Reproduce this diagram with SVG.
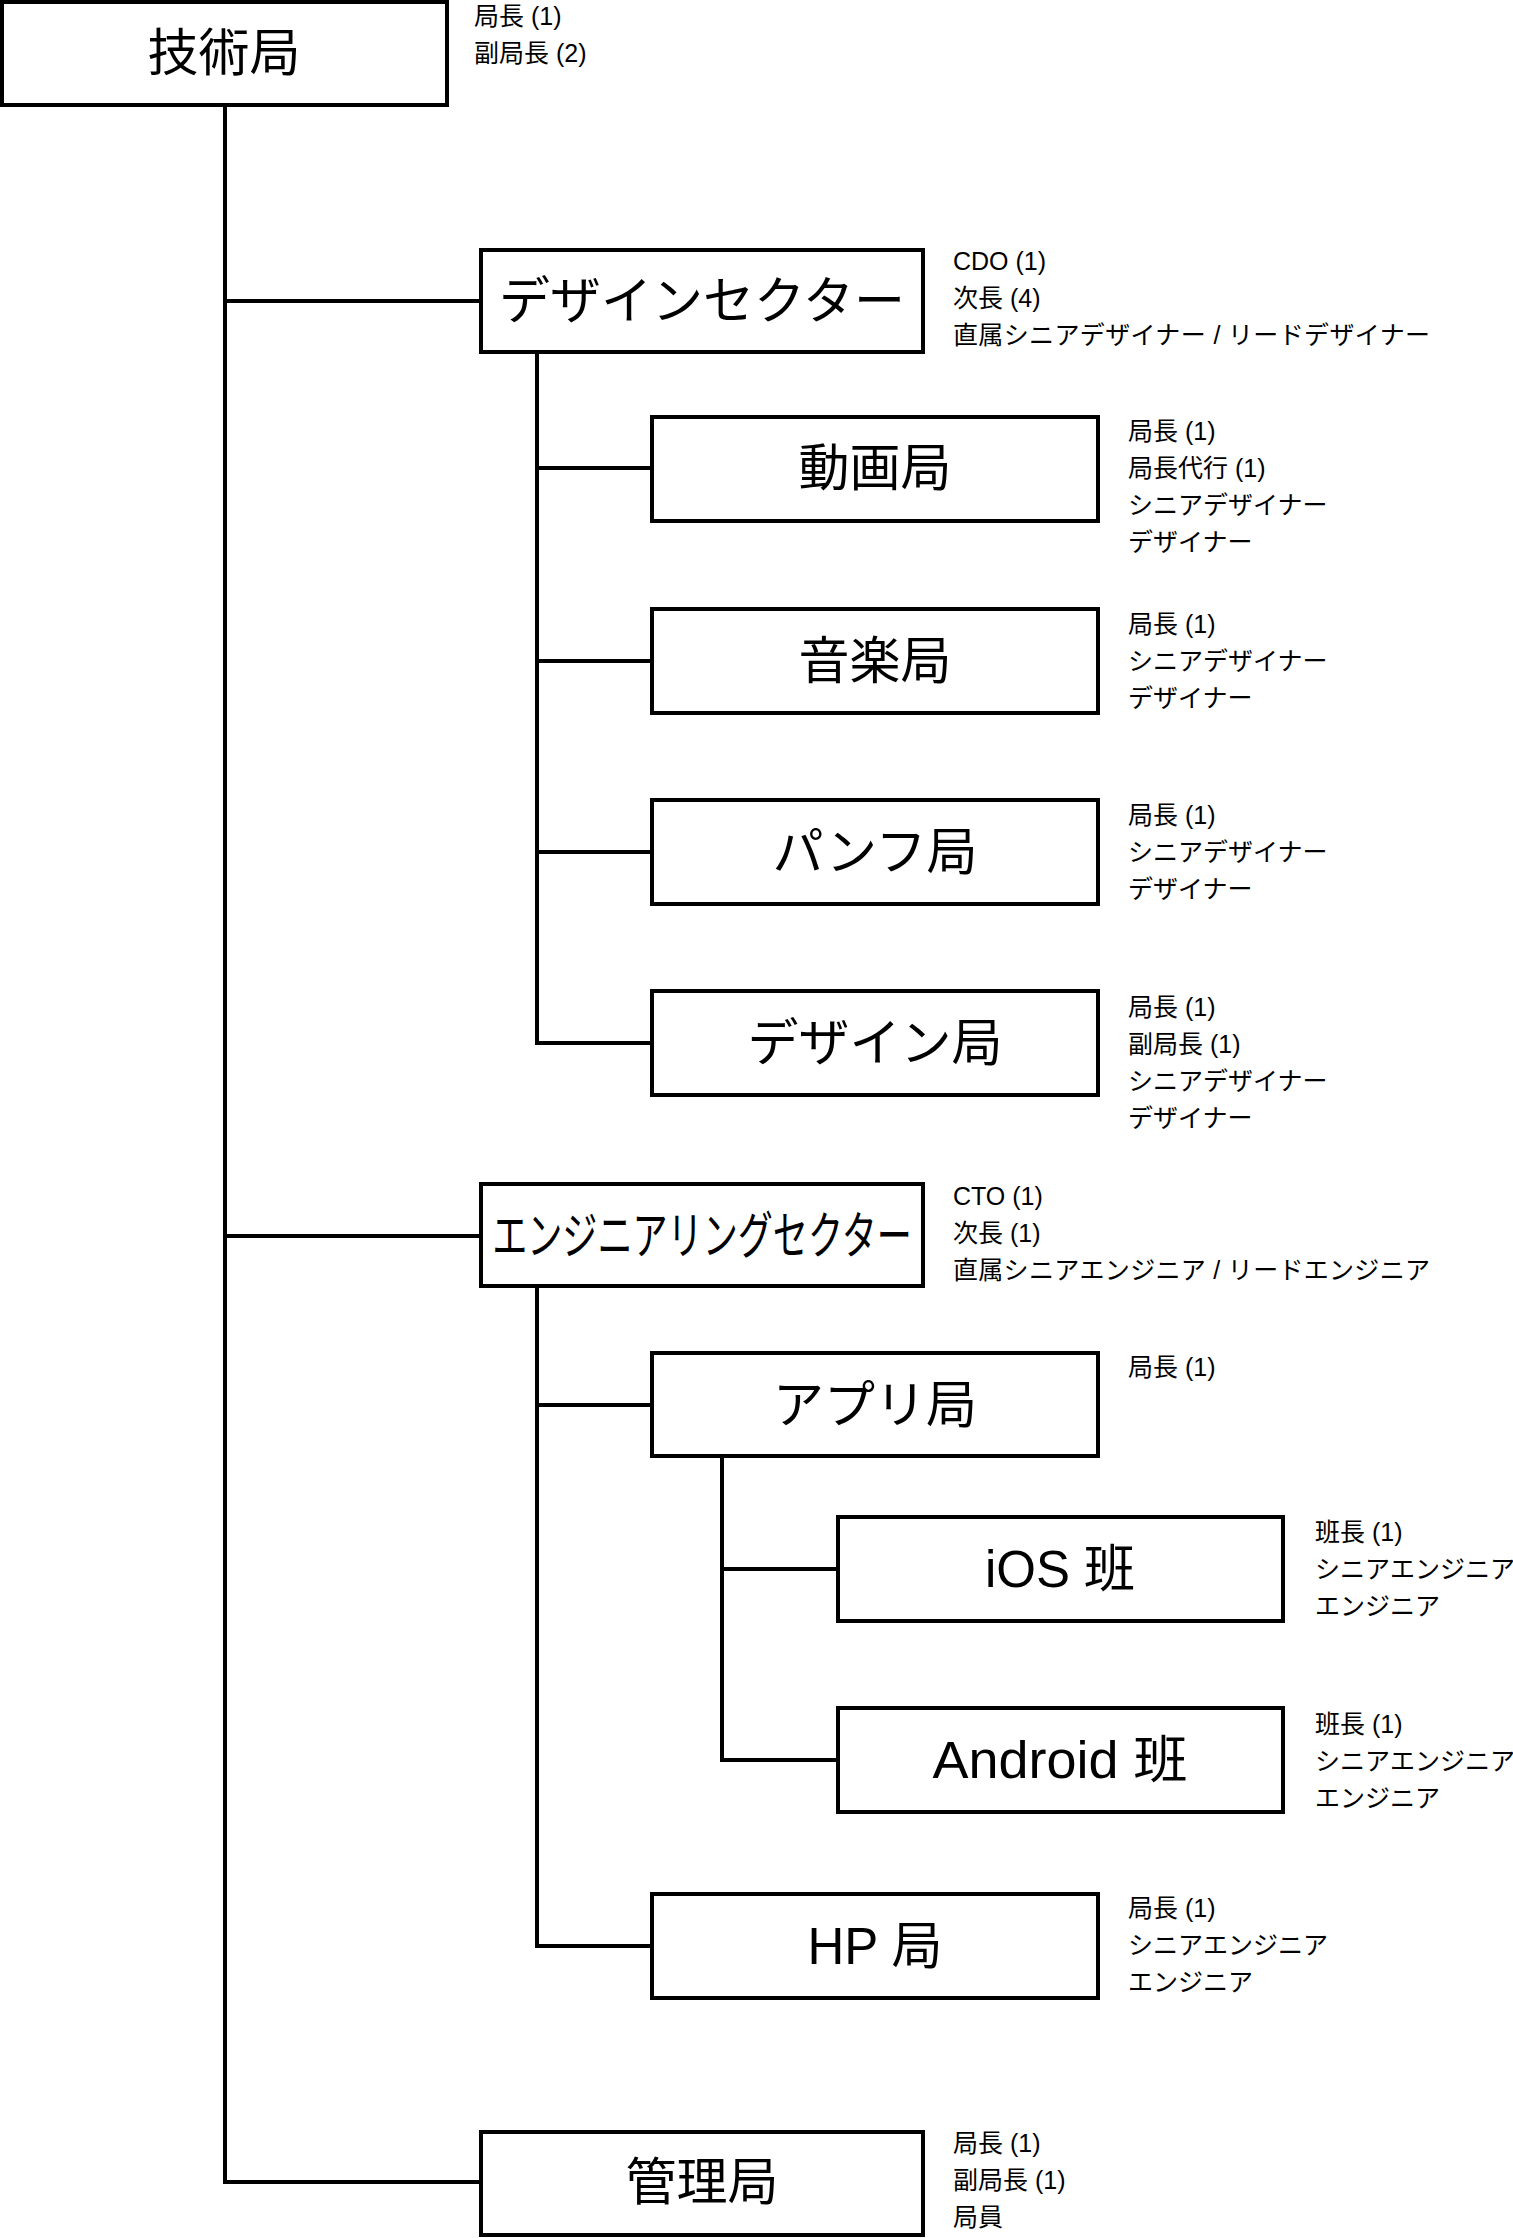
<svg xmlns="http://www.w3.org/2000/svg" width="1513" height="2238" viewBox="0 0 1513 2238">
<style>
.box{fill:#fff;stroke:#000;stroke-width:4}
.ln{fill:none;stroke:#000;stroke-width:4}
.t{font-family:"Liberation Sans","Noto Sans CJK JP",sans-serif;font-size:51px;text-anchor:middle;fill:#000}
.n{font-family:"Liberation Sans","Noto Sans CJK JP",sans-serif;font-size:25px;fill:#000}
</style>
<rect width="1513" height="2238" fill="#fff"/>
<g id="connectors">
<path class="ln" d="M225,105 V2182 H481 M225,301 H481 M225,1236 H481"/>
<path class="ln" d="M537,352 V1043 H652 M537,468 H652 M537,661 H652 M537,852 H652"/>
<path class="ln" d="M537,1286 V1946 H652 M537,1405 H652"/>
<path class="ln" d="M722,1456 V1760 H838 M722,1569 H838"/>
</g>
<g id="n-gijutsu">
<rect class="box" x="2" y="2" width="445" height="103"/>
<text class="t" x="224" y="71">技術局</text>
<text class="n" x="474" y="25">局長 (1)</text>
<text class="n" x="474" y="62">副局長 (2)</text>
</g>
<g id="n-design-sector">
<rect class="box" x="481" y="250" width="442" height="102"/>
<text class="t" x="702" y="319">デザインセクター</text>
<text class="n" x="953" y="270">CDO (1)</text>
<text class="n" x="953" y="307">次長 (4)</text>
<text class="n" x="953" y="344" textLength="477" lengthAdjust="spacing">直属シニアデザイナー / リードデザイナー</text>
</g>
<g id="n-douga">
<rect class="box" x="652" y="417" width="446" height="104"/>
<text class="t" x="875" y="486">動画局</text>
<text class="n" x="1128" y="440">局長 (1)</text>
<text class="n" x="1128" y="477">局長代行 (1)</text>
<text class="n" x="1128" y="514">シニアデザイナー</text>
<text class="n" x="1128" y="551">デザイナー</text>
</g>
<g id="n-ongaku">
<rect class="box" x="652" y="609" width="446" height="104"/>
<text class="t" x="875" y="679">音楽局</text>
<text class="n" x="1128" y="633">局長 (1)</text>
<text class="n" x="1128" y="670">シニアデザイナー</text>
<text class="n" x="1128" y="707">デザイナー</text>
</g>
<g id="n-panfu">
<rect class="box" x="652" y="800" width="446" height="104"/>
<text class="t" x="875" y="870">パンフ局</text>
<text class="n" x="1128" y="824">局長 (1)</text>
<text class="n" x="1128" y="861">シニアデザイナー</text>
<text class="n" x="1128" y="898">デザイナー</text>
</g>
<g id="n-design-kyoku">
<rect class="box" x="652" y="991" width="446" height="104"/>
<text class="t" x="875" y="1061">デザイン局</text>
<text class="n" x="1128" y="1016">局長 (1)</text>
<text class="n" x="1128" y="1053">副局長 (1)</text>
<text class="n" x="1128" y="1090">シニアデザイナー</text>
<text class="n" x="1128" y="1127">デザイナー</text>
</g>
<g id="n-eng-sector">
<rect class="box" x="481" y="1184" width="442" height="102"/>
<text class="t" transform="translate(702,1254) scale(0.688,1)">エンジニアリングセクター</text>
<text class="n" x="953" y="1205">CTO (1)</text>
<text class="n" x="953" y="1242">次長 (1)</text>
<text class="n" x="953" y="1279" textLength="477" lengthAdjust="spacing">直属シニアエンジニア / リードエンジニア</text>
</g>
<g id="n-app">
<rect class="box" x="652" y="1353" width="446" height="103"/>
<text class="t" x="875" y="1423">アプリ局</text>
<text class="n" x="1128" y="1376">局長 (1)</text>
</g>
<g id="n-ios">
<rect class="box" x="838" y="1517" width="445" height="104"/>
<text class="t" x="1060" y="1587">iOS 班</text>
<text class="n" x="1315" y="1541">班長 (1)</text>
<text class="n" x="1315" y="1578">シニアエンジニア</text>
<text class="n" x="1315" y="1615">エンジニア</text>
</g>
<g id="n-android">
<rect class="box" x="838" y="1708" width="445" height="104"/>
<text class="t" x="1060" y="1778" textLength="255" lengthAdjust="spacingAndGlyphs">Android 班</text>
<text class="n" x="1315" y="1733">班長 (1)</text>
<text class="n" x="1315" y="1770">シニアエンジニア</text>
<text class="n" x="1315" y="1807">エンジニア</text>
</g>
<g id="n-hp">
<rect class="box" x="652" y="1894" width="446" height="104"/>
<text class="t" x="875" y="1964">HP 局</text>
<text class="n" x="1128" y="1917">局長 (1)</text>
<text class="n" x="1128" y="1954">シニアエンジニア</text>
<text class="n" x="1128" y="1991">エンジニア</text>
</g>
<g id="n-kanri">
<rect class="box" x="481" y="2132" width="442" height="103"/>
<text class="t" x="702" y="2200">管理局</text>
<text class="n" x="953" y="2152">局長 (1)</text>
<text class="n" x="953" y="2189">副局長 (1)</text>
<text class="n" x="953" y="2226">局員</text>
</g>
</svg>
